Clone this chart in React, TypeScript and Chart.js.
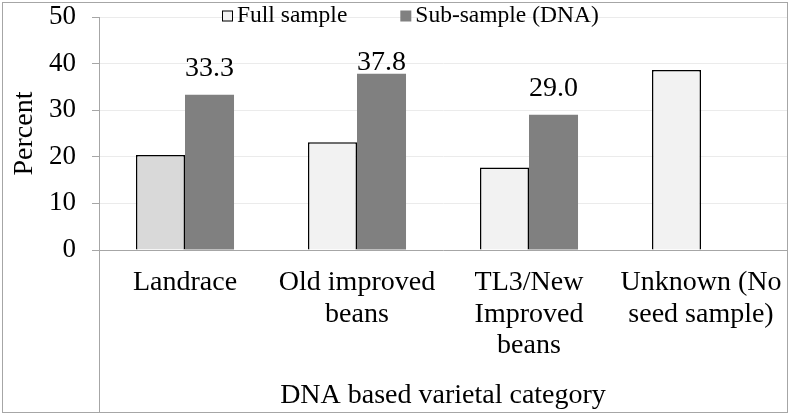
import React, { useEffect, useRef } from 'react';
import { Chart, registerables } from 'chart.js';

Chart.register(...registerables);

const FONT = "'Liberation Serif', 'Times New Roman', serif";

const categories: string[][] = [
  ['Landrace'],
  ['Old improved', 'beans'],
  ['TL3/New', 'Improved', 'beans'],
  ['Unknown (No', 'seed sample)'],
];
const seriesNames = ['Full sample', 'Sub-sample (DNA)'];
const fullSample: number[] = [20.4, 23.1, 17.7, 38.6];
const subSample: (number | null)[] = [33.3, 37.8, 29.0, null];
const subLabels: string[] = ['33.3', '37.8', '29.0', ''];
const fullColors = ['#d9d9d9', '#f2f2f2', '#f2f2f2', '#f2f2f2'];
const subColor = '#808080';
const yMin = 0;
const yMax = 50;
const yStep = 10;
const xTitle = 'DNA based varietal category';
const yTitle = 'Percent';

const decorPlugin = {
  id: 'decor',
  beforeDraw(chart: any) {
    const { ctx, width, height } = chart;
    ctx.save();
    ctx.fillStyle = '#ffffff';
    ctx.fillRect(0, 0, width, height);
    ctx.restore();
  },
  afterDraw(chart: any) {
    const { ctx, chartArea } = chart;
    const { left, right, top, bottom } = chartArea;
    ctx.save();
    // outer frame
    ctx.strokeStyle = '#a6a6a6';
    ctx.lineWidth = 1;
    ctx.strokeRect(2.5, 2.5, Math.round(right) - 2, chart.height - 5);
    // extension of the value axis line through the category area
    const ax = Math.round(left) + 0.5;
    ctx.beginPath();
    ctx.moveTo(ax, bottom);
    ctx.lineTo(ax, chart.height - 2.5);
    ctx.stroke();

    // legend
    ctx.font = `23.5px ${FONT}`;
    ctx.textBaseline = 'middle';
    ctx.textAlign = 'left';
    ctx.fillStyle = '#000';
    const ly = top - 1;
    const box = 11;
    const legendStart = 222;
    ctx.fillStyle = fullColors[1];
    ctx.fillRect(legendStart, ly - box / 2, box, box);
    ctx.strokeStyle = '#000';
    ctx.lineWidth = 1;
    ctx.strokeRect(legendStart + 0.5, ly - box / 2 + 0.5, box - 1, box - 1);
    ctx.fillStyle = '#000';
    ctx.fillText(seriesNames[0], legendStart + box + 4, ly);
    const w1 = ctx.measureText(seriesNames[0]).width;
    const x2 = legendStart + box + 4 + w1 + 53;
    ctx.fillStyle = subColor;
    ctx.fillRect(x2, ly - box / 2, box, box);
    ctx.fillStyle = '#000';
    ctx.fillText(seriesNames[1], x2 + box + 4, ly);

    // data labels for sub-sample
    const meta = chart.getDatasetMeta(1);
    ctx.font = `28px ${FONT}`;
    ctx.textAlign = 'center';
    ctx.textBaseline = 'middle';
    meta.data.forEach((el: any, i: number) => {
      if (subSample[i] == null) return;
      const y = Math.max(el.y - 26, top + 46);
      ctx.fillText(subLabels[i], el.x, y);
    });
    ctx.restore();
  },
};

export default function App() {
  const ref = useRef<HTMLCanvasElement | null>(null);
  useEffect(() => {
    if (!ref.current) return;
    const chart = new Chart(ref.current, {
      type: 'bar',
      data: {
        labels: categories,
        datasets: [
          {
            label: seriesNames[0],
            data: fullSample,
            backgroundColor: fullColors,
            borderColor: '#000000',
            borderWidth: 1.5,
            barPercentage: 1,
            categoryPercentage: 0.57,
          },
          {
            label: seriesNames[1],
            data: subSample,
            backgroundColor: subColor,
            borderWidth: 0,
            barPercentage: 1,
            categoryPercentage: 0.57,
          },
        ],
      },
      options: {
        animation: false,
        responsive: false,
        layout: { padding: { left: 0, right: 6, top: 17, bottom: 3 } },
        plugins: {
          legend: { display: false },
          tooltip: { enabled: false },
        },
        scales: {
          x: {
            grid: { display: false, drawTicks: false },
            border: { display: true, color: '#a6a6a6', width: 1 },
            ticks: {
              font: { family: FONT, size: 28, lineHeight: 1.13 },
              color: '#000',
              padding: 17,
              maxRotation: 0,
              autoSkip: false,
            },
            title: {
              display: true,
              text: xTitle,
              font: { family: FONT, size: 28, lineHeight: 1.2 },
              color: '#000',
              padding: 0,
            },
            afterFit(scale: any) {
              scale.height = 162;
              scale.paddingLeft = 0;
              scale.paddingRight = 0;
            },
          },
          y: {
            min: yMin,
            max: yMax,
            ticks: {
              stepSize: yStep,
              font: { family: FONT, size: 27 },
              color: '#000',
              padding: 16,
            },
            grid: { color: '#ebebeb', tickColor: '#a6a6a6', tickLength: 7 },
            border: { display: true, color: '#a6a6a6', width: 1 },
            title: {
              display: true,
              text: yTitle,
              font: { family: FONT, size: 28, lineHeight: 1.2 },
              color: '#000',
              padding: { top: 8, bottom: 0 },
            },
            afterFit(scale: any) {
              scale.width = 99;
              scale.paddingTop = 0;
              scale.paddingBottom = 0;
            },
          },
        },
      },
      plugins: [decorPlugin],
    });
    return () => chart.destroy();
  }, []);
  return (
    <div style={{ position: 'fixed', left: 0, top: 0, width: 793, height: 415 }}>
      <canvas ref={ref} width={793} height={415} />
    </div>
  );
}
